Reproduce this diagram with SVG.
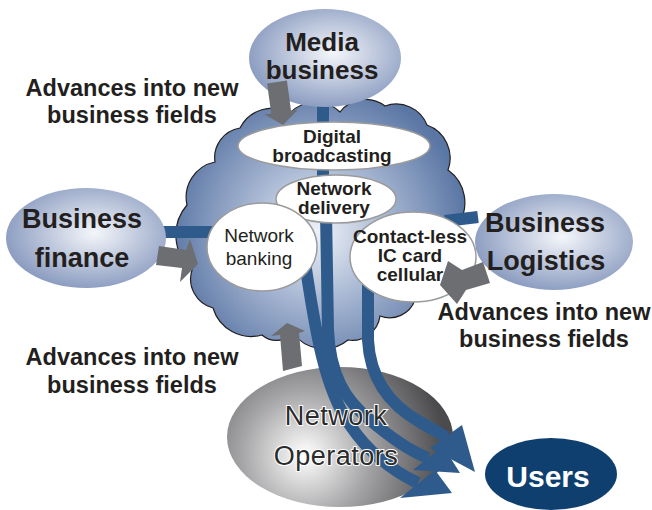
<svg xmlns="http://www.w3.org/2000/svg" width="652" height="510" viewBox="0 0 652 510">
<defs>
<radialGradient id="gCloud" gradientUnits="userSpaceOnUse" cx="318" cy="232" r="150">
<stop offset="0" stop-color="#eef1f7"/>
<stop offset="0.45" stop-color="#aab9d4"/>
<stop offset="1" stop-color="#5a76a4"/>
</radialGradient>
<radialGradient id="gBiz" cx="0.55" cy="0.45" r="0.6">
<stop offset="0" stop-color="#f4f6fa"/>
<stop offset="1" stop-color="#8597bd"/>
</radialGradient>
<radialGradient id="gOps" gradientUnits="userSpaceOnUse" cx="305" cy="455" r="140">
<stop offset="0" stop-color="#ffffff"/>
<stop offset="0.45" stop-color="#a6a6a8"/>
<stop offset="1" stop-color="#4b4b4d"/>
</radialGradient>
<style>
.bz{fill:url(#gBiz);}
.small{fill:#ffffff;stroke:#9b9b9b;stroke-width:1.5;}
.t{font-family:"Liberation Sans",Arial,sans-serif;fill:#231f20;text-anchor:middle;}
.b{font-weight:bold;}
.big{font-size:27px;}
.mid{font-size:19px;}
.adv{font-size:23.5px;font-weight:bold;}
.band{fill:none;stroke:#2f5b8c;stroke-width:12;}
.head{fill:#2f5b8c;}
.grey{fill:#6d6e71;}
.ops{font-size:27px;letter-spacing:0.5px;fill:#2b2b2b;stroke:#ffffff;stroke-width:2;paint-order:stroke;}
.usr{font-size:30px;font-weight:bold;fill:#ffffff;}
</style>
</defs>
<rect width="652" height="510" fill="#ffffff"/>

<g id="cloud">
<path d="M192,270 A46,46 0 0 1 187,205 A36,36 0 0 1 215,162 A30,30 0 0 1 240,128 A36,36 0 0 1 290,113 A35,35 0 0 1 340,112 A32,32 0 0 1 385,106 A33,33 0 0 1 427,125 A35,35 0 0 1 448,170 A40,40 0 0 1 458,225 A32,32 0 0 1 452,270 A34,34 0 0 1 415,300 A27,27 0 0 1 380,316 A28,28 0 0 1 348,340 A38,38 0 0 1 293,333 A22,22 0 0 1 262,335 A40,40 0 0 1 213,308 A30,30 0 0 1 192,270 Z" fill="url(#gCloud)" stroke="#231f20" stroke-width="1.2"/>
</g>

<g id="network-operators">
<ellipse cx="340" cy="437" rx="113" ry="70" fill="url(#gOps)"/>
</g>

<g id="connectors">
<line class="band" x1="323" y1="100" x2="323" y2="185"/>
<line class="band" x1="160" y1="232" x2="215" y2="232"/>
<line class="band" x1="445" y1="221" x2="478" y2="217"/>
<path class="band" d="M305,262 C315,330 325,390 350,425 C370,455 395,472 418,483"/>
<path class="band" d="M326,212 L328,330 C330,375 345,400 370,420 C390,437 410,451 428,458"/>
<path class="band" d="M368,278 L368,340 C370,380 390,405 420,422 C430,428 438,432 446,437"/>
<polygon class="head" points="400,498 435,470 452,493"/>
<polygon class="head" points="413,470 443,446 460,473"/>
<polygon class="head" points="430,448 462,425 475,472"/>
</g>

<g id="media-business">
<ellipse class="bz" cx="325" cy="58" rx="76" ry="49"/>
<text class="t b" x="322" y="51" font-size="26">Media</text>
<text class="t b" x="322" y="79" font-size="26">business</text>
</g>

<g id="business-finance">
<ellipse class="bz" cx="86" cy="238" rx="80" ry="50"/>
<text class="t b big" x="82" y="228">Business</text>
<text class="t b big" x="82" y="267">finance</text>
</g>

<g id="business-logistics">
<ellipse class="bz" cx="554" cy="242" rx="79" ry="48"/>
<text class="t b big" x="545" y="232">Business</text>
<text class="t b big" x="546" y="270">Logistics</text>
</g>

<g id="digital-broadcasting">
<ellipse class="small" cx="334" cy="146" rx="96" ry="24"/>
<text class="t b mid" x="332" y="143">Digital</text>
<text class="t b mid" x="332" y="162">broadcasting</text>
</g>

<g id="network-delivery">
<ellipse class="small" cx="336" cy="199" rx="60" ry="24"/>
<text class="t b mid" x="334" y="195">Network</text>
<text class="t b mid" x="334" y="214">delivery</text>
</g>

<g id="network-banking">
<ellipse class="small" cx="262" cy="247" rx="55" ry="44"/>
<text class="t mid" x="259" y="242">Network</text>
<text class="t mid" x="259" y="265">banking</text>
</g>

<g id="contact-less">
<ellipse class="small" cx="413" cy="257" rx="63" ry="45"/>
<text class="t b mid" x="410" y="243">Contact-less</text>
<text class="t b mid" x="410" y="262">IC card</text>
<text class="t b mid" x="410" y="281">cellular</text>
</g>

<g id="network-operators-label">
<text class="t ops" x="336" y="425">Network</text>
<text class="t ops" x="336" y="465">Operators</text>
</g>

<g id="users">
<ellipse cx="551" cy="474" rx="66" ry="36" fill="#0e3f6e"/>
<text class="t usr" x="548" y="487">Users</text>
</g>

<g id="advance-arrows">
<polygon class="grey" points="267.1,83.4 286.9,80.6 291,110.6 297.9,109.7 283,125 264.3,114.3 271.2,113.4"/>
<polygon class="grey" points="159,246 186,250 190,239 198,264 180,282 182,268 156,265"/>
<polygon class="grey" points="483,262 490,283 466,290 457,304 440,285 448,261 462,270"/>
<polygon class="grey" points="283,371 302,366 299,333 305,331 287,323 271,336 280,335"/>
</g>

<g id="labels">
<text class="t adv" x="132" y="96">Advances into new</text>
<text class="t adv" x="132" y="123">business fields</text>
<text class="t adv" x="132" y="365">Advances into new</text>
<text class="t adv" x="132" y="393">business fields</text>
<text class="t adv" x="544" y="320">Advances into new</text>
<text class="t adv" x="544" y="347">business fields</text>
</g>
</svg>
